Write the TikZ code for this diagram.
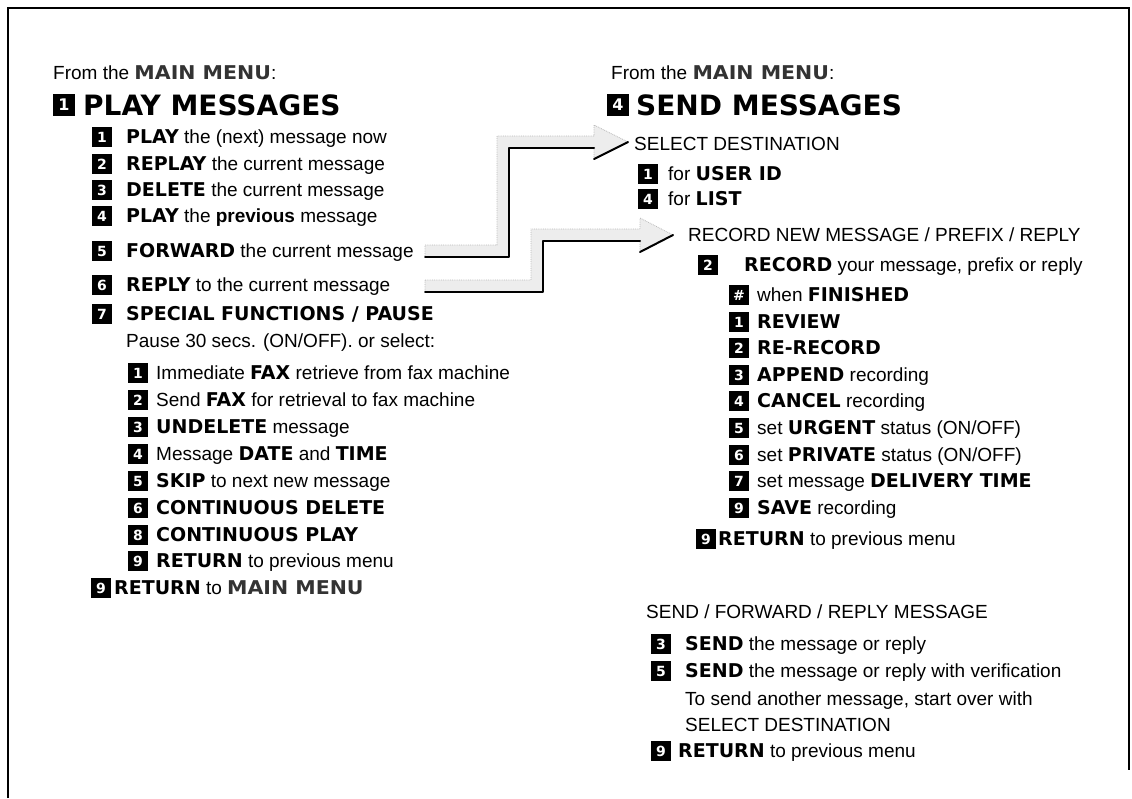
\documentclass[tikz,border=0pt]{standalone}
\usepackage{fontspec}
\setmainfont{Liberation Sans}
\newfontfamily\dejavu{DejaVu Sans}
\newfontfamily\dejavuwide{DejaVu Sans}[FakeStretch=1.08]
\newcommand\hvb{\dejavu\bfseries}
\newcommand\B[1]{{\hvb #1}}
\newcommand\MM{{\dejavuwide\bfseries\color{black!80}MAIN MENU}}
\newcommand\fs{\fontsize{19}{22}\selectfont}
\newcommand\krow[6]{\node[key] (#1k) at (#2,#4) {#5}; \node[txt] (#1t) at (#3,#4) {#6};}
\begin{document}
\begin{tikzpicture}[x=1pt,y=-1pt,
 txt/.style={anchor=west,inner sep=0pt,font=\fs,text height=13.6pt,text depth=0pt},
 key/.style={fill=black,text=white,minimum width=20pt,minimum height=20pt,inner sep=0pt,font=\hvb\fontsize{14}{14}\selectfont},
 tkey/.style={key,minimum width=22pt,minimum height=22pt,font=\hvb\fontsize{16}{16}\selectfont},
 title/.style={anchor=west,inner sep=0pt,font=\hvb\fontsize{28}{30}\selectfont,text height=20.4pt,text depth=0pt},
 band/.style={fill=gray!14,draw=gray!55,densely dotted,line width=0.8pt},
 shadow/.style={draw=black,line width=2pt,line cap=round,line join=round},
 frame/.style={draw=black,line width=2pt}]
\useasboundingbox (0,0) rectangle (1132,798);
\fill[white] (0,0) rectangle (1132,798);
\draw[frame] (8,798) -- (8,8) -- (1129,8) -- (1129,770);

% ---------- left column ----------
\node[txt] (lfrom) at (53,73) {From the \MM:};
\node[tkey] (ltk) at (64,105) {1};
\node[title] (ltt) at (83,105) {PLAY MESSAGES};
\krow{l1}{102}{126}{137}{1}{\B{PLAY} the (next) message now}
\krow{l2}{102}{126}{164}{2}{\B{REPLAY} the current message}
\krow{l3}{102}{126}{190}{3}{\B{DELETE} the current message}
\krow{l4}{102}{126}{216}{4}{\B{PLAY} the \textbf{previous} message}
\krow{l5}{102}{126}{251}{5}{\B{FORWARD} the current message}
\krow{l6}{102}{126}{285}{6}{\B{REPLY} to the current message}
\krow{l7}{102}{126}{314}{7}{\B{SPECIAL FUNCTIONS / PAUSE}}
\node[txt] (lpause) at (126,341) {Pause 30 secs. (ON/OFF). or select:};
\krow{s1}{138}{156}{373}{1}{Immediate \B{FAX} retrieve from fax machine}
\krow{s2}{138}{156}{400}{2}{Send \B{FAX} for retrieval to fax machine}
\krow{s3}{138}{156}{427}{3}{\B{UNDELETE} message}
\krow{s4}{138}{156}{454}{4}{Message \B{DATE} and \B{TIME}}
\krow{s5}{138}{156}{481}{5}{\B{SKIP} to next new message}
\krow{s6}{138}{156}{508}{6}{\B{CONTINUOUS DELETE}}
\krow{s8}{138}{156}{535}{8}{\B{CONTINUOUS PLAY}}
\krow{s9}{138}{156}{561}{9}{\B{RETURN} to previous menu}
\krow{lr}{101}{114}{588}{9}{\B{RETURN} to \MM}

% ---------- right column ----------
\node[txt] (rfrom) at (611,73) {From the \MM:};
\node[tkey] (rtk) at (618,105) {4};
\node[title] (rtt) at (636,105) {SEND MESSAGES};
\node[txt] (rsel) at (634,144) {SELECT DESTINATION};
\krow{u1}{648}{668}{174}{1}{for \B{USER ID}}
\krow{u4}{648}{668}{199}{4}{for \B{LIST}}
\node[txt] (rrec) at (688,235) {RECORD NEW MESSAGE / PREFIX / REPLY};
\krow{r2}{708}{744}{265}{2}{\B{RECORD} your message, prefix or reply}
\krow{rh}{739}{757}{295}{\#}{when \B{FINISHED}}
\krow{ra}{739}{757}{322}{1}{\B{REVIEW}}
\krow{rb}{739}{757}{348}{2}{\B{RE-RECORD}}
\krow{rc}{739}{757}{375}{3}{\B{APPEND} recording}
\krow{rd}{739}{757}{401}{4}{\B{CANCEL} recording}
\krow{re}{739}{757}{428}{5}{set \B{URGENT} status (ON/OFF)}
\krow{rf}{739}{757}{455}{6}{set \B{PRIVATE} status (ON/OFF)}
\krow{rg}{739}{757}{481}{7}{set message \B{DELIVERY TIME}}
\krow{ri}{739}{757}{508}{9}{\B{SAVE} recording}
\krow{rr}{706}{718}{539}{9}{\B{RETURN} to previous menu}
\node[txt] (rsend) at (646,612) {SEND / FORWARD / REPLY MESSAGE};
\krow{b3}{661}{685}{644}{3}{\B{SEND} the message or reply}
\krow{b5}{661}{685}{671}{5}{\B{SEND} the message or reply with verification}
\node[txt] (bto) at (685,699) {To send another message, start over with};
\node[txt] (bsel) at (685,725) {SELECT DESTINATION};
\krow{b9}{661}{678}{751}{9}{\B{RETURN} to previous menu}

% ---------- arrows ----------
\coordinate (a1s) at (425,251);
\coordinate (a1e) at (628,142);
\path[band] (425,245) -- (497,245) -- (497,136) -- (594,136) -- (594,125) -- (a1e)
  -- (594,159) -- (594,148) -- (509,148) -- (509,257) -- (425,257) -- cycle;
\draw[shadow] (425,257) -- (509,257) -- (509,148) -- (594,148);
\draw[shadow] (594,159) -- (a1e);
\coordinate (a2s) at (425,286);
\coordinate (a2e) at (673,235);
\path[band] (425,280) -- (531,280) -- (531,229) -- (640,229) -- (640,218) -- (a2e)
  -- (640,252) -- (640,241) -- (543,241) -- (543,292) -- (425,292) -- cycle;
\draw[shadow] (425,292) -- (543,292) -- (543,241) -- (640,241);
\draw[shadow] (640,252) -- (a2e);
\end{tikzpicture}
\end{document}
